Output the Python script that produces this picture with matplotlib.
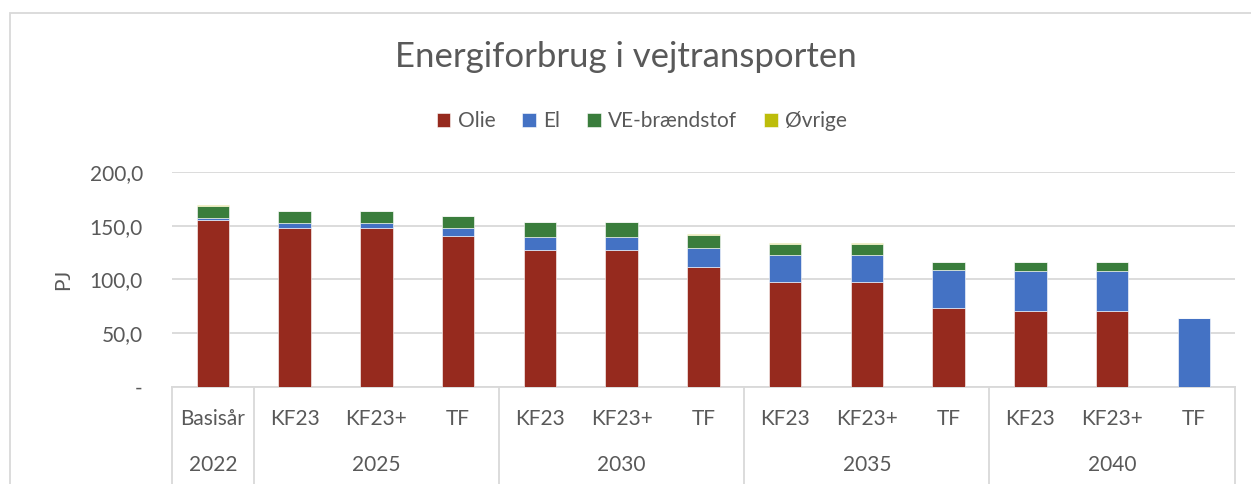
import matplotlib.pyplot as plt
import matplotlib.transforms as mtransforms
from matplotlib.patches import Rectangle
import numpy as np

plt.rcParams['font.family'] = ['Lato', 'DejaVu Sans']

# data (PJ)
scenarios = ['Basisår', 'KF23', 'KF23+', 'TF', 'KF23', 'KF23+', 'TF',
             'KF23', 'KF23+', 'TF', 'KF23', 'KF23+', 'TF']
years = ['2022', '2025', '2030', '2035', '2040']
group_sizes = [1, 3, 3, 3, 3]

olie = [155.0, 147.4, 147.4, 140.2, 127.1, 127.1, 111.2, 97.2, 97.2, 73.3, 70.1, 70.1, 0.0]
el = [2.4, 5.3, 5.3, 7.8, 12.2, 12.2, 18.1, 25.2, 25.2, 35.1, 37.4, 37.4, 64.2]
ve = [11.3, 11.1, 11.1, 11.2, 13.9, 13.9, 12.4, 10.9, 10.9, 8.1, 8.3, 8.3, 0.0]
ovrige = [0.15, 0.1, 0.1, 0.1, 0.1, 0.1, 0.1, 0.1, 0.1, 0.05, 0.1, 0.1, 0.0]

series = [('Olie', olie, '#962A1E'),
          ('El', el, '#4472C4'),
          ('VE-brændstof', ve, '#3A7D3C'),
          ('Øvrige', ovrige, '#BDBD0A')]

grey = '#595959'
fig = plt.figure(figsize=(12.51, 4.84), dpi=100)
ax = fig.add_axes([0.1375, 0.2014, 0.8495, 0.4432])

x = np.arange(len(scenarios))
bottom = np.zeros(len(scenarios))
for name, vals, col in series:
    vals = np.array(vals)
    ax.bar(x, vals, 0.4, bottom=bottom, color=col, label=name,
           edgecolor='white', linewidth=0.4, zorder=3)
    bottom += vals

ax.set_xlim(-0.5, len(scenarios) - 0.5)
ax.set_ylim(0, 200)
ax.set_yticks([0, 50, 100, 150, 200])
ax.set_yticklabels(['-', '50,0', '100,0', '150,0', '200,0'])
ax.grid(axis='y', color='#D9D9D9', linewidth=1.3, zorder=0)
for s in ['top', 'right', 'left']:
    ax.spines[s].set_visible(False)
ax.spines['bottom'].set_color('#D9D9D9')
ax.spines['bottom'].set_linewidth(1.3)
ax.tick_params(axis='y', length=0, labelsize=15, colors=grey, pad=21)
ax.set_ylabel('PJ', fontsize=15, color=grey, labelpad=12)

# two-level category axis
ax.set_xticks(x)
ax.set_xticklabels(scenarios)
ax.tick_params(axis='x', length=0, labelsize=15, colors=grey, pad=16)

trans = mtransforms.blended_transform_factory(ax.transData, fig.transFigure)
edges = np.concatenate(([0], np.cumsum(group_sizes))) - 0.5
for e in edges:
    ax.plot([e, e], [0.2014, 0.0], transform=trans, color='#D9D9D9',
            linewidth=1.3, clip_on=False)
for i, yr in enumerate(years):
    ax.text((edges[i] + edges[i + 1]) / 2, 0.039, yr, transform=trans,
            ha='center', va='center', fontsize=15, color=grey)

fig.suptitle('Energiforbrug i vejtransporten', y=0.882, va='center',
             fontsize=25, color=grey)
fig.legend(loc='center', bbox_to_anchor=(0.513, 0.75), ncol=4, frameon=False,
           fontsize=15, labelcolor=grey, handlelength=0.65, handleheight=0.65,
           handletextpad=0.35, columnspacing=1.3)

fig.patches.append(Rectangle((10 / 1251, -0.01), 1.1, 1 - 13 / 484 + 0.01,
                             transform=fig.transFigure, fill=False,
                             edgecolor='#D9D9D9', linewidth=1.3))

fig.savefig('out.png', dpi=100)
